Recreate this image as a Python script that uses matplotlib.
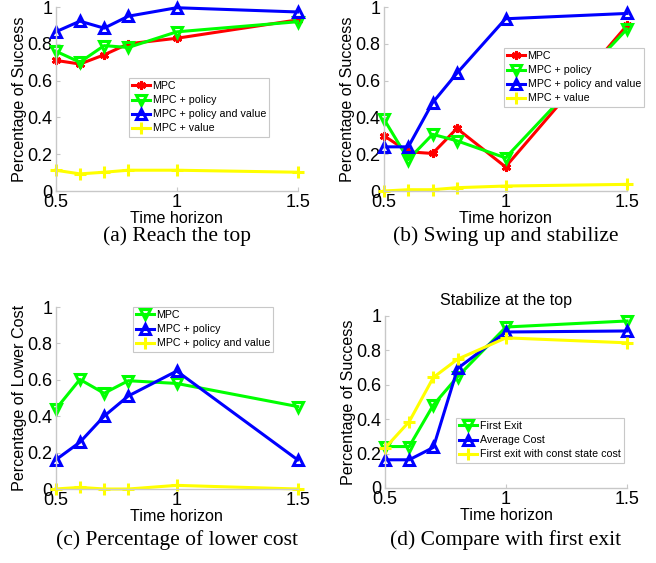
import matplotlib
matplotlib.use("Agg")
import matplotlib.pyplot as plt

plt.rcParams['font.family'] = ['Liberation Sans', 'DejaVu Sans']

x = [0.5, 0.6, 0.7, 0.8, 1.0, 1.5]

# (a) Reach the top
a_mpc = [0.71, 0.69, 0.74, 0.80, 0.83, 0.93]
a_pol = [0.76, 0.70, 0.79, 0.78, 0.865, 0.92]
a_polval = [0.865, 0.923, 0.885, 0.95, 0.996, 0.973]
a_val = [0.113, 0.093, 0.102, 0.113, 0.113, 0.102]

# (b) Swing up and stabilize
b_mpc = [0.30, 0.213, 0.204, 0.34, 0.131, 0.90]
b_pol = [0.39, 0.171, 0.308, 0.273, 0.18, 0.88]
b_polval = [0.24, 0.24, 0.48, 0.64, 0.936, 0.965]
b_val = [0.0, 0.007, 0.007, 0.018, 0.027, 0.036]

# (c) Percentage of lower cost
c_mpc = [0.438, 0.602, 0.526, 0.595, 0.58, 0.453]
c_pol = [0.16, 0.257, 0.40, 0.511, 0.648, 0.16]
c_polval = [0.0, 0.009, 0.0, 0.0, 0.02, 0.0]

# (d) Compare with first exit
d_first = [0.241, 0.241, 0.483, 0.647, 0.936, 0.971]
d_avg = [0.164, 0.164, 0.236, 0.695, 0.907, 0.913]
d_const = [0.232, 0.386, 0.643, 0.749, 0.873, 0.844]

xticks = [0.5, 1.0, 1.5]
xticklabels = ["0.5", "1", "1.5"]
yticks = [0, 0.2, 0.4, 0.6, 0.8, 1.0]
yticklabels = ["0", "0.2", "0.4", "0.6", "0.8", "1"]

RED, GREEN, BLUE, YELLOW = '#ff0000', '#00ff00', '#0000ff', '#ffff00'
STY = {
    'red': dict(color=RED, marker=(6, 2, 0), ms=6.5, mew=2.0),
    'green': dict(color=GREEN, marker='v', ms=7, mew=2.2, mfc='none'),
    'blue': dict(color=BLUE, marker='^', ms=7, mew=2.2, mfc='none'),
    'yellow': dict(color=YELLOW, marker='+', ms=8, mew=2.2),
}

W, H = 656, 563
fig = plt.figure(figsize=(W / 100, H / 100), dpi=100)


def make_ax(l, r, t, b):
    return fig.add_axes([l / W, 1 - b / H, (r - l) / W, (b - t) / H])


def style(ax, ylabel):
    ax.set_xlim(0.5, 1.5)
    ax.set_ylim(0, 1)
    ax.set_xticks(xticks)
    ax.set_xticklabels(xticklabels)
    ax.set_yticks(yticks)
    ax.set_yticklabels(yticklabels)
    for s in ['top', 'right']:
        ax.spines[s].set_visible(False)
    for s in ['left', 'bottom']:
        ax.spines[s].set_color('#c8c8c8')
        ax.spines[s].set_linewidth(1.0)
    ax.tick_params(direction='in', length=3, color='#c8c8c8', labelsize=13,
                   labelcolor='black')
    ax.tick_params(axis='y', pad=2.5)
    ax.tick_params(axis='x', pad=2)
    ax.set_xlabel('Time horizon', fontsize=11.6, labelpad=0)
    ax.set_ylabel(ylabel, fontsize=11.6, labelpad=0)


def plot(ax, y, key, label):
    ax.plot(x, y, lw=2.2, label=label, clip_on=False, **STY[key])


def legend(ax, bx, by):
    leg = ax.legend(loc='upper left', bbox_to_anchor=(bx, by), borderaxespad=0,
                    fontsize=7.7, frameon=True, fancybox=False, framealpha=1,
                    edgecolor='#c8c8c8', handlelength=1.7, handletextpad=0.2,
                    labelspacing=0.38, borderpad=0.3)
    leg.get_frame().set_linewidth(0.8)


def caption(ax, text, ypix):
    pos = ax.get_position()
    fig.text((pos.x0 + pos.x1) / 2, 1 - ypix / H, text, ha='center', va='center',
             fontsize=15.5, family=['Liberation Serif', 'DejaVu Serif'])


# (a)
ax = make_ax(55.7, 297.7, 7, 191)
plot(ax, a_mpc, 'red', 'MPC')
plot(ax, a_pol, 'green', 'MPC + policy')
plot(ax, a_polval, 'blue', 'MPC + policy and value')
plot(ax, a_val, 'yellow', 'MPC + value')
style(ax, 'Percentage of Success')
legend(ax, (129 - 55.7) / 242, (191 - 78) / 184)
caption(ax, '(a) Reach the top', 236)

# (b)
ax = make_ax(384, 627, 7, 191)
plot(ax, b_mpc, 'red', 'MPC')
plot(ax, b_pol, 'green', 'MPC + policy')
plot(ax, b_polval, 'blue', 'MPC + policy and value')
plot(ax, b_val, 'yellow', 'MPC + value')
style(ax, 'Percentage of Success')
legend(ax, (504 - 384) / 243, (191 - 48) / 184)
caption(ax, '(b) Swing up and stabilize', 236)

# (c)
ax = make_ax(55.7, 297.7, 307, 489)
plot(ax, c_mpc, 'green', 'MPC')
plot(ax, c_pol, 'blue', 'MPC + policy')
plot(ax, c_polval, 'yellow', 'MPC + policy and value')
style(ax, 'Percentage of Lower Cost')
legend(ax, (133 - 55.7) / 242, (489 - 307) / 182)
caption(ax, '(c) Percentage of lower cost', 540)

# (d)
ax = make_ax(385, 627, 316, 488)
plot(ax, d_first, 'green', 'First Exit')
plot(ax, d_avg, 'blue', 'Average Cost')
plot(ax, d_const, 'yellow', 'First exit with const state cost')
style(ax, 'Percentage of Success')
ax.set_title('Stabilize at the top', fontsize=11.5, pad=8)
legend(ax, (456 - 385) / 242, (488 - 418) / 172)
caption(ax, '(d) Compare with first exit', 540)

fig.savefig('out.png', dpi=100)
